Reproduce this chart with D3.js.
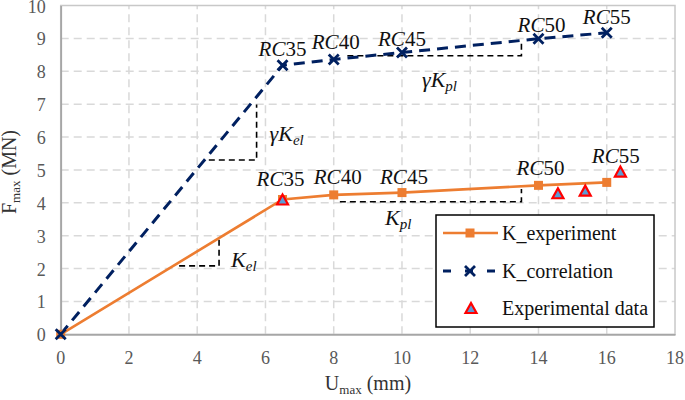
<!DOCTYPE html>
<html>
<head>
<meta charset="utf-8">
<script src="https://cdn.jsdelivr.net/npm/d3@7"></script>
</head>
<body style="margin:0">
<svg id="chart" width="685" height="400"></svg>
<script>
// ---- data ----
const xTicks = [0, 2, 4, 6, 8, 10, 12, 14, 16, 18];
const yTicks = [0, 1, 2, 3, 4, 5, 6, 7, 8, 9, 10];
const specimens = ["", "RC35", "RC40", "RC45", "RC50", "RC55"];
const uExperiment = [0, 6.5, 8, 10, 14, 16];
const fExperiment = [0, 4.1, 4.24, 4.31, 4.53, 4.62];
const uCorrelation = [0, 6.5, 8, 10, 14, 16];
const fCorrelation = [0, 8.18, 8.36, 8.57, 8.99, 9.17];
const uData = [6.5, 14.57, 15.37, 16.4];
const fData = [4.1, 4.29, 4.37, 4.95];
const legendLabels = ["K_experiment", "K_correlation", "Experimental data"];
// slope annotation triangles (data units): [xStart, xCorner, yBase, yTop]
const slopeKel = [3.47, 4.64, 2.08, 2.9];
const slopeGKel = [4.34, 5.74, 5.3, 6.99];
const slopeKpl = [8.18, 13.5, 4.03, 4.42];
const slopeGKpl = [8.4, 13.5, 8.47, 8.84];

// ---- layout ----
const svg = d3.select("#chart");
const x = d3.scaleLinear().domain([0, 18]).range([60.7, 675]);
const y = d3.scaleLinear().domain([0, 10]).range([334.3, 5.5]);
const orange = "#ED7D31", navy = "#002060";
const serif = '"Liberation Serif"';

function txt(g, fs) {
  return g.append("text").style("font-family", serif).attr("font-size", fs);
}

// gridlines
svg.append("g").selectAll("line.h").data(yTicks.slice(1, -1)).join("line")
  .attr("x1", x(0)).attr("x2", x(18)).attr("y1", d => y(d)).attr("y2", d => y(d))
  .attr("stroke", "#d9d9d9").attr("stroke-width", 1.5).attr("stroke-dasharray", "8,5");
svg.append("g").selectAll("line.v").data(xTicks.slice(1, -1)).join("line")
  .attr("y1", y(0)).attr("y2", y(10)).attr("x1", d => x(d)).attr("x2", d => x(d))
  .attr("stroke", "#d9d9d9").attr("stroke-width", 1.5).attr("stroke-dasharray", "8,5");

// plot border
svg.append("rect").attr("x", x(0)).attr("y", y(10)).attr("width", x(18) - x(0)).attr("height", y(0) - y(10))
  .attr("fill", "none").attr("stroke", "#c8c8c8").attr("stroke-width", 1.5);

// axes (lines via d3 axis, labels as explicit serif texts)
const xAxis = svg.append("g").attr("transform", `translate(0,${y(0)})`)
  .call(d3.axisBottom(x).tickValues(xTicks).tickSize(0).tickFormat(""));
const yAxis = svg.append("g").attr("transform", `translate(${x(0)},0)`)
  .call(d3.axisLeft(y).tickValues(yTicks).tickSize(0).tickFormat(""));
[xAxis, yAxis].forEach(a => {
  a.select(".domain").attr("stroke", "#a6a6a6").attr("stroke-width", 1.8);
  a.selectAll(".tick text").remove();
});
xTicks.forEach(v => {
  txt(svg, 18).attr("x", x(v)).attr("y", y(0) + 30).attr("text-anchor", "middle")
    .attr("fill", "#595959").text(v);
});
yTicks.forEach(v => {
  txt(svg, 18).attr("x", x(0) - 15).attr("y", y(v) + 7).attr("text-anchor", "end")
    .attr("fill", "#595959").text(v);
});

// axis titles
const yt = txt(svg, 20).attr("transform", "translate(16,172) rotate(-90)")
  .attr("text-anchor", "middle").attr("fill", "#333");
yt.append("tspan").text("F");
yt.append("tspan").text("max").attr("font-size", 13).attr("dy", 4);
yt.append("tspan").text(" (MN)").attr("dy", -4);
const xt = txt(svg, 20).attr("x", 368).attr("y", 390)
  .attr("text-anchor", "middle").attr("fill", "#333");
xt.append("tspan").text("U");
xt.append("tspan").text("max").attr("font-size", 13).attr("dy", 4);
xt.append("tspan").text(" (mm)").attr("dy", -4);

// slope annotations
function slope(s) {
  svg.append("path")
    .attr("d", `M${x(s[0])},${y(s[2])}H${x(s[1])}V${y(s[3])}`)
    .attr("fill", "none").attr("stroke", "#000").attr("stroke-width", 1.6).attr("stroke-dasharray", "6,4");
}
[slopeKel, slopeGKel, slopeKpl, slopeGKpl].forEach(slope);

// lines
const expPts = uExperiment.map((u, i) => [u, fExperiment[i]]);
const corPts = uCorrelation.map((u, i) => [u, fCorrelation[i]]);
const line = d3.line().x(d => x(d[0])).y(d => y(d[1]));
svg.append("path").attr("d", line(corPts)).attr("fill", "none").attr("stroke", navy)
  .attr("stroke-width", 3).attr("stroke-dasharray", "11,7");
svg.append("path").attr("d", line(expPts)).attr("fill", "none").attr("stroke", orange)
  .attr("stroke-width", 2.6);

// markers
function square(g, cx, cy) {
  g.append("rect").attr("x", cx - 4.5).attr("y", cy - 4.5).attr("width", 9).attr("height", 9).attr("fill", orange);
}
function cross(g, cx, cy) {
  g.append("path").attr("d", `M${cx - 5},${cy - 5}L${cx + 5},${cy + 5}M${cx - 5},${cy + 5}L${cx + 5},${cy - 5}`)
    .attr("stroke", navy).attr("stroke-width", 2.8).attr("fill", "none");
}
function tri(g, cx, cy) {
  g.append("path").attr("d", `M${cx},${cy - 6}L${cx + 5.5},${cy + 4}L${cx - 5.5},${cy + 4}Z`)
    .attr("fill", "#5B9BD5").attr("stroke", "#FF0000").attr("stroke-width", 2.2).attr("stroke-linejoin", "miter");
}
const mk = svg.append("g");
expPts.forEach(p => square(mk, x(p[0]), y(p[1])));
corPts.forEach(p => cross(mk, x(p[0]), y(p[1])));
uData.forEach((u, i) => tri(mk, x(u), y(fData[i]) + 1));

// specimen labels
function rcLabel(name, px, py) {
  const t = txt(svg, 21).attr("x", px).attr("y", py).attr("text-anchor", "middle").attr("fill", "#111");
  t.append("tspan").text(name.slice(0, 2)).attr("font-style", "italic");
  t.append("tspan").text(name.slice(2));
}
const upperOff = [null, [0, -9], [2, -10], [0, -7], [3, -7], [0, -9]];
const lowerOff = [null, [-2, -13], [4, -11], [2, -9], [2, -10], [9, -19]];
specimens.forEach((s, i) => {
  if (!s) return;
  rcLabel(s, x(uCorrelation[i]) + upperOff[i][0], y(fCorrelation[i]) + upperOff[i][1]);
  rcLabel(s, x(uExperiment[i]) + lowerOff[i][0], y(fExperiment[i]) + lowerOff[i][1]);
});

// slope labels
function kLabel(gamma, sub, px, py) {
  const t = txt(svg, 22).attr("x", px).attr("y", py).attr("font-style", "italic").attr("fill", "#111");
  t.append("tspan").text((gamma ? "γ" : "") + "K");
  t.append("tspan").text(sub).attr("font-size", 15).attr("dy", 4);
}
kLabel(true, "el", x(slopeGKel[1]) + 13, y(slopeGKel[3]) + 37);
kLabel(false, "el", x(slopeKel[1]) + 12, y(slopeKel[2]) + 1);
kLabel(false, "pl", 385, y(slopeKpl[2]) + 23);
kLabel(true, "pl", 422, y(slopeGKpl[2]) + 31);

// legend
const lg = svg.append("g");
lg.append("rect").attr("x", 436).attr("y", 215).attr("width", 218).attr("height", 112)
  .attr("fill", "#fff").attr("stroke", "#000").attr("stroke-width", 1.5);
const rows = [233, 271, 308];
lg.append("line").attr("x1", 443).attr("x2", 498).attr("y1", rows[0]).attr("y2", rows[0])
  .attr("stroke", orange).attr("stroke-width", 2.6);
square(lg, 470, rows[0]);
lg.append("line").attr("x1", 443).attr("x2", 498).attr("y1", rows[1]).attr("y2", rows[1])
  .attr("stroke", navy).attr("stroke-width", 3).attr("stroke-dasharray", "8,14");
cross(lg, 470, rows[1]);
tri(lg, 471, rows[2] + 1);
legendLabels.forEach((l, i) => {
  txt(lg, 20).attr("x", 502).attr("y", rows[i] + 7).text(l).attr("fill", "#111");
});
</script>
</body>
</html>
